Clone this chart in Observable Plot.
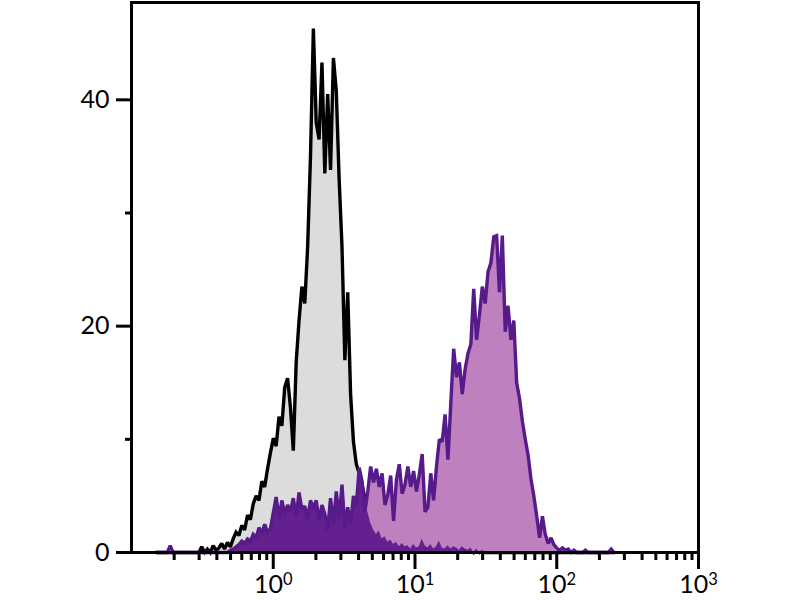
<!DOCTYPE html>
<html><head><meta charset="utf-8">
<script src="https://cdn.jsdelivr.net/npm/d3@7"></script>
<script src="https://cdn.jsdelivr.net/npm/@observablehq/plot@0.6"></script>
<style>body{margin:0;background:#fff}</style>
</head><body><div id="chart"></div>
<script>
// histogram bins: log10 position of first bin and bin width (decades)
const binStartLog = -0.828;
const binStepLog = 0.0202;

// control (isotype) counts per bin
const controlCounts = [
  0,0,0,0,0,0,0,0,0,0,0,0,0,0,0,0,
  0.5,0,0.3,0,0.6,0.2,0.4,0.8,0.3,
  0.9,0.5,1.2,1.8,1.5,2.4,2.0,3.3,2.9,4.3,5.0,4.6,6.3,5.8,7.4,
  8.8,10.1,9.4,12.0,11.2,14.6,15.4,12.8,9.0,16.8,20.5,23.5,22.0,27.0,35.0,
  46.3,38.0,36.5,43.3,33.5,40.5,33.8,43.7,40.8,33.0,27.0,17.0,23.0,14.0,9.8,
  7.8,7.0,6.0,4.8,3.6,2.6,2.0,1.6,1.9,1.2,1.4,0.9,1.1,0.7,0.9,
  0.5,0.8,0.5,0.6,0.3,0.7,0.4,0.5,1.2,0.6,0.4,0.7,0.3,0.5,1.0,
  0.4,0.3,0.6,0.3,0.5,0.4,0.2,0.5,0.3,0.2,0.4,0,0.3,0,0.2,
  0,0,0,0,0,0,0,0,0,0,0,0,0,0,0,0,0,0,0,0,0,0,0,0,0,0,0,0,0,0,0,0,0,0,0,0,0,0,0,0,0,0,0,0,0,0
];

// stained sample counts per bin
const sampleCounts = [
  0,0,0,0,0,
  0.6,
  0,0,0,0,0,0,0,0,0,0,0,0,0,0,0,0,0,0,0,0,
  0.2,0.3,0.5,0.7,1.0,0.8,1.2,1.0,1.6,1.3,2.2,1.7,2.5,1.8,2.1,
  3.5,4.9,3.0,4.6,3.4,4.2,3.6,4.8,3.2,5.3,3.8,4.1,3.0,4.6,3.9,
  4.6,2.8,4.2,3.4,2.0,4.8,2.5,5.4,3.0,6.0,2.2,4.0,2.5,5.0,4.1,
  7.5,6.3,3.6,5.4,7.6,6.2,7.4,5.8,7.0,4.2,5.1,6.8,2.8,6.4,7.8,
  5.2,6.0,7.6,5.8,7.2,5.4,6.9,8.7,3.6,4.0,7.0,4.6,7.6,10.0,9.8,
  12.2,8.2,13.2,18.0,15.5,16.8,14.0,16.2,17.6,18.4,23.3,18.8,21.0,23.5,22.0,
  24.8,25.6,27.9,28.0,23.0,28.0,19.5,21.8,18.8,20.5,15.0,13.6,11.6,10.0,8.6,
  6.5,5.0,3.2,1.3,3.2,1.6,0.8,1.3,0.7,0.4,0.2,0.4,0.2,0.3,0,
  0.2,0,0,0,0.2,0,0,0,0,0,0,0,0,0.3,0
];

const yTicksLabeled = [0, 20, 40];
const yTicksMinor = [10, 30];
const xTicksMajor = [1, 10, 100, 1000];
const xTickExponents = ["0", "1", "2", "3"];
const xDecades = [0.1, 1, 10, 100];
const xMinorMultipliers = [2, 3, 4, 5, 6, 7, 8, 9];
const xTicksMinor = xDecades.flatMap(d => xMinorMultipliers.map(m => d * m));

const rows = controlCounts.map((c, i) => ({
  x: Math.pow(10, binStartLog + i * binStepLog),
  control: c,
  sample: sampleCounts[i],
  overlap: Math.min(c, sampleCounts[i])
}));

const chart = Plot.plot({
  width: 800, height: 600,
  marginLeft: 131, marginRight: 102, marginTop: 2, marginBottom: 48,
  style: {fontFamily: "Lato, 'DejaVu Sans', sans-serif", fontSize: "25px", color: "#000", background: "#fff"},
  x: {type: "log", domain: [0.1, 1000], label: null},
  y: {domain: [0, 48.6], label: null},
  marks: [
    Plot.areaY(rows, {x: "x", y: "control", fill: "#dcdcdc"}),
    Plot.lineY(rows, {x: "x", y: "control", stroke: "#000", strokeWidth: 3.4, strokeLinejoin: "miter", strokeMiterlimit: 2}),
    Plot.areaY(rows, {x: "x", y: "sample", fill: "#bf80bf"}),
    Plot.areaY(rows, {x: "x", y: "overlap", fill: "#64208e"}),
    Plot.lineY(rows, {x: "x", y: "sample", stroke: "#561a8a", strokeWidth: 3.4, strokeLinejoin: "miter", strokeMiterlimit: 2}),
    Plot.axisY(yTicksLabeled, {tickSize: 15, tickPadding: 7, fontSize: 25, strokeWidth: 3, tickFormat: d => String(d)}),
    Plot.axisY(yTicksMinor, {tickSize: 6, strokeWidth: 3, tickFormat: () => ""}),
    Plot.axisX(xTicksMajor, {tickSize: 17, tickPadding: 6, fontSize: 25, strokeWidth: 3, tickFormat: () => "10"}),
    Plot.axisX(xTicksMinor, {tickSize: 8, strokeWidth: 3, tickFormat: () => ""}),
    Plot.frame({stroke: "#000", strokeWidth: 3})
  ]
});

let j = 0;
d3.select(chart).selectAll("text").each(function() {
  if (this.textContent === "10") {
    d3.select(this).append("tspan")
      .attr("dy", "-0.5em")
      .attr("font-size", "0.66em")
      .text(xTickExponents[j++]);
  }
});

document.getElementById("chart").appendChild(chart);
</script>
</body></html>
